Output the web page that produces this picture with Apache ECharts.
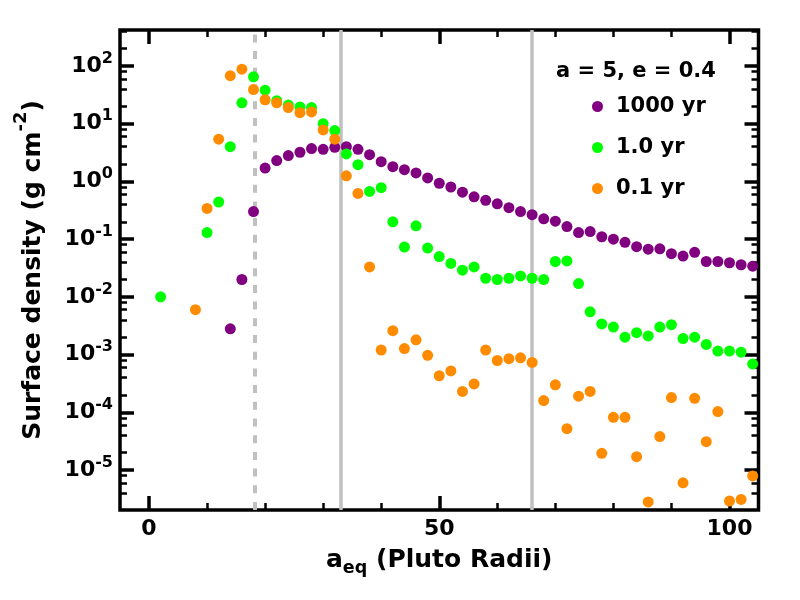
<!DOCTYPE html>
<html>
<head>
<meta charset="utf-8">
<title>Surface density</title>
<script src="https://cdn.jsdelivr.net/npm/echarts@6/dist/echarts.min.js"></script>
<style>
  html, body { margin: 0; padding: 0; background: #fff; }
  #main { width: 800px; height: 600px; }
</style>
</head>
<body>
<div id="main"></div>
<script>
// 数据
var seriesNames = ['1000 yr', '1.0 yr', '0.1 yr'];
var seriesColors = ['#800080', '#00ff00', '#ff8c00'];

var xPurple = [14, 16, 18, 20, 22, 24, 26, 28, 30, 32, 34, 36, 38, 40, 42, 44, 46, 48, 50, 52, 54, 56, 58, 60, 62, 64, 66, 68, 70, 72, 74, 76, 78, 80, 82, 84, 86, 88, 90, 92, 94, 96, 98, 100, 102, 104];
var yPurple = [0.0028, 0.020, 0.30, 1.7, 2.3, 2.8, 3.2, 3.7, 3.6, 3.9,
  4.0, 3.6, 2.9, 2.2, 1.8, 1.6, 1.4, 1.15, 0.93, 0.80,
  0.65, 0.54, 0.47, 0.41, 0.35, 0.30, 0.265, 0.225, 0.205, 0.165,
  0.13, 0.135, 0.11, 0.10, 0.088, 0.074, 0.067, 0.068, 0.056, 0.051,
  0.059, 0.041, 0.041, 0.039, 0.036, 0.034];

var xGreen = [2, 10, 12, 14, 16, 18, 20, 22, 24, 26, 28, 30, 32, 34, 36, 38, 40, 42, 44, 46, 48, 50, 52, 54, 56, 58, 60, 62, 64, 66, 68, 70, 72, 74, 76, 78, 80, 82, 84, 86, 88, 90, 92, 94, 96, 98, 100, 102, 104];
var yGreen = [0.010, 0.13, 0.44, 4.0, 23, 65, 38, 25, 21, 19.5,
  19, 10, 7.6, 3.0, 1.95, 0.67, 0.78, 0.20, 0.073, 0.17,
  0.070, 0.050, 0.038, 0.029, 0.033, 0.021, 0.020, 0.021, 0.023, 0.021,
  0.020, 0.041, 0.042, 0.017, 0.0055, 0.0034, 0.0030, 0.0020, 0.0024, 0.0021,
  0.0030, 0.0033, 0.0019, 0.0020, 0.0015, 0.00115, 0.00115, 0.0011, 0.00069];

var xOrange = [8, 10, 12, 14, 16, 18, 20, 22, 24, 26, 28, 30, 32, 34, 36, 38, 40, 42, 44, 46, 48, 50, 52, 54, 56, 58, 60, 62, 64, 66, 68, 70, 72, 74, 76, 78, 80, 82, 84, 86, 88, 90, 92, 94, 96, 98, 100, 102, 104];
var yOrange = [0.0060, 0.34, 5.4, 68, 88, 39, 26, 23, 19, 15.5,
  16, 7.8, 5.4, 1.25, 0.62, 0.033, 0.0012, 0.0026, 0.00127, 0.0018,
  0.00097, 0.00043, 0.00052, 0.00023, 0.00031, 0.0012, 0.00079, 0.00085, 0.00088, 0.00073,
  0.00016, 0.00030, 0.000052, 0.00019, 0.00023, 0.0000195, 0.000082, 0.000082, 0.000017, 0.0000028,
  0.000038, 0.00018, 0.000006, 0.000175, 0.000031, 0.000103, 0.0000029, 0.0000031, 0.0000079];

// 竖线位置
var vLines = [18.3, 33, 66];
var vLineDashed = [true, false, false];

// 坐标轴范围和刻度
var xMin = -5, xMax = 105;
var xMajor = [0, 50, 100];
var xMinor = [10, 20, 30, 40, 60, 70, 80, 90];
var yMin = 2.03e-6, yMax = 420;
var yMajor = [1e-5, 1e-4, 1e-3, 1e-2, 1e-1, 1, 10, 100];
var yMinorMult = [2, 4, 6, 8];
var yDecades = [1e-6, 1e-5, 1e-4, 1e-3, 1e-2, 1e-1, 1, 10, 100];

var yMinor = [];
for (var d = 0; d < yDecades.length; d++) {
  for (var m = 0; m < yMinorMult.length; m++) {
    var v = Number((yDecades[d] * yMinorMult[m]).toPrecision(3));
    if (v > yMin && v < yMax) yMinor.push(v);
  }
}

var FONT = 'DejaVu Sans';
var gridBox = { left: 120, right: 41.5, top: 30, bottom: 90 };

function zip(xs, ys) {
  var out = [];
  for (var i = 0; i < xs.length; i++) out.push([xs[i], ys[i]]);
  return out;
}
// 10的幂标签
function powLabel(v) {
  var e = Math.round(Math.log10(v));
  return '{b|10}{s|' + e + '}';
}

var majorTick = { show: true, inside: true, length: 14, lineStyle: { color: '#000', width: 3.5 } };
var minorTick = { show: true, inside: true, length: 7, lineStyle: { color: '#000', width: 2.5 } };

function xAx(grid, pos, ticks, tickStyle, withLabel) {
  var ax = {
    type: 'value', gridIndex: grid, position: pos, min: xMin, max: xMax,
    axisLine: { show: false, onZero: false },
    axisTick: Object.assign({ customValues: ticks }, tickStyle),
    splitLine: { show: false },
    axisLabel: { show: false }
  };
  if (withLabel) {
    ax.axisLabel = {
      show: true, customValues: ticks, margin: 8, color: '#000',
      fontFamily: FONT, fontWeight: 'bold', fontSize: 22, lineHeight: 22
    };
    ax.name = '{m|a}{u|eq}{m| (Pluto Radii)}';
    ax.nameLocation = 'middle';
    ax.nameGap = 33;
    ax.nameTextStyle = {
      rich: {
        m: { fontFamily: FONT, fontWeight: 'bold', fontSize: 25, lineHeight: 34, color: '#000', verticalAlign: 'middle' },
        u: { fontFamily: FONT, fontWeight: 'bold', fontSize: 17.5, lineHeight: 17.5, color: '#000', verticalAlign: 'bottom' }
      }
    };
  }
  return ax;
}

function yAx(grid, pos, ticks, tickStyle, withLabel) {
  var ax = {
    type: 'log', logBase: 10, gridIndex: grid, position: pos, min: yMin, max: yMax,
    axisLine: { show: false, onZero: false },
    axisTick: Object.assign({ customValues: ticks }, tickStyle),
    splitLine: { show: false },
    minorTick: { show: false },
    axisLabel: { show: false }
  };
  if (withLabel) {
    ax.axisLabel = {
      show: true, customValues: ticks, margin: 7,
      formatter: powLabel,
      rich: {
        b: { fontFamily: FONT, fontWeight: 'bold', fontSize: 22, lineHeight: 31, color: '#000', verticalAlign: 'middle' },
        s: { fontFamily: FONT, fontWeight: 'bold', fontSize: 16, lineHeight: 16, color: '#000', verticalAlign: 'top' }
      }
    };
    ax.name = '{t|Surface density (g cm}{s|-2}{t|)}';
    ax.nameLocation = 'middle';
    ax.nameGap = 66;
    ax.nameTextStyle = {
      rich: {
        t: { fontFamily: FONT, fontWeight: 'bold', fontSize: 25, lineHeight: 42, color: '#000', verticalAlign: 'middle' },
        s: { fontFamily: FONT, fontWeight: 'bold', fontSize: 18, lineHeight: 18, color: '#000', verticalAlign: 'top' }
      }
    };
  }
  return ax;
}

var chart = echarts.init(document.getElementById('main'));

var series = [{
  // 竖线
  type: 'scatter', xAxisIndex: 0, yAxisIndex: 0, data: [], silent: true,
  markLine: {
    silent: true, symbol: ['none', 'none'], z: 1, animation: false,
    label: { show: false },
    data: vLines.map(function (x, i) {
      return {
        xAxis: x,
        lineStyle: vLineDashed[i]
          ? { color: '#c0c0c0', width: 4, type: [8, 8.7] }
          : { color: '#c0c0c0', width: 3.5, type: 'solid' }
      };
    })
  }
}];
var allData = [zip(xPurple, yPurple), zip(xGreen, yGreen), zip(xOrange, yOrange)];
for (var s = 0; s < seriesNames.length; s++) {
  series.push({
    name: seriesNames[s], type: 'scatter', xAxisIndex: 0, yAxisIndex: 0,
    symbol: 'circle', symbolSize: 11, z: 2 + s,
    itemStyle: { color: seriesColors[s], opacity: 1 },
    data: allData[s]
  });
}

var option = {
  animation: false,
  backgroundColor: '#fff',
  title: {
    text: 'a = 5, e = 0.4', left: 556, top: 62, padding: 0,
    textStyle: { fontFamily: FONT, fontWeight: 'bold', fontSize: 21, lineHeight: 20, color: '#000' }
  },
  legend: {
    data: seriesNames, orient: 'vertical', left: 592, top: 96, padding: 0,
    itemWidth: 11, itemHeight: 11, itemGap: 20, icon: 'circle', selectedMode: false,
    textStyle: { fontFamily: FONT, fontWeight: 'bold', fontSize: 21, lineHeight: 20, color: '#000', padding: [0, 0, 0, 8] }
  },
  grid: [
    Object.assign({ show: true, borderColor: '#000', borderWidth: 3.5, backgroundColor: 'transparent', containLabel: false, outerBoundsMode: 'none' }, gridBox),
    Object.assign({ show: false, containLabel: false, outerBoundsMode: 'none' }, gridBox)
  ],
  xAxis: [
    xAx(0, 'bottom', xMajor, majorTick, true),
    xAx(0, 'top', xMajor, majorTick, false),
    xAx(1, 'bottom', xMinor, minorTick, false),
    xAx(1, 'top', xMinor, minorTick, false)
  ],
  yAxis: [
    yAx(0, 'left', yMajor, majorTick, true),
    yAx(0, 'right', yMajor, majorTick, false),
    yAx(1, 'left', yMinor, minorTick, false),
    yAx(1, 'right', yMinor, minorTick, false)
  ],
  series: series
};
chart.setOption(option);
</script>
</body>
</html>
